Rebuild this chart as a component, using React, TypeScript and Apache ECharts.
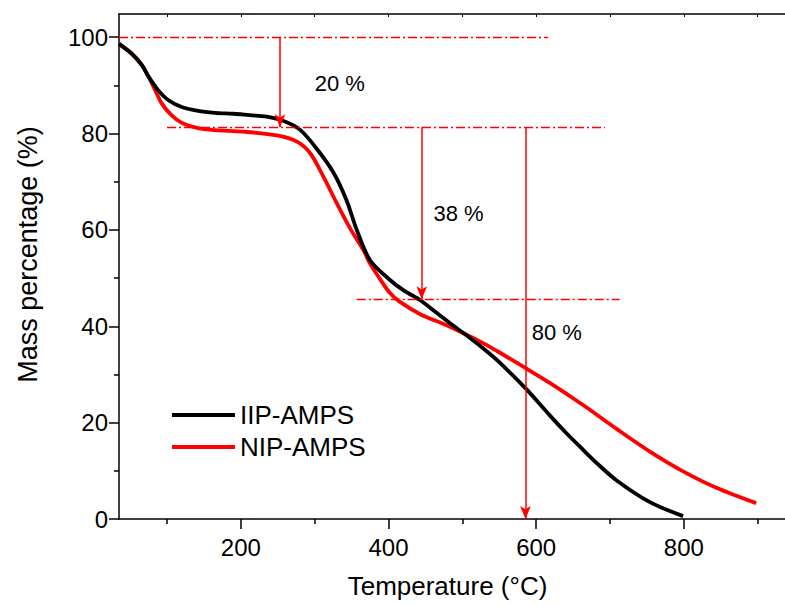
import React, { useEffect, useRef } from "react";
import * as echarts from "echarts";

// Temperature (°C) and mass percentage (%)
const iipTemp = [35, 52, 66, 75, 88, 102, 120, 142, 165, 190, 212, 235, 258, 280, 302, 325, 343, 357, 375, 402, 420, 443, 466, 487, 510, 533, 551, 587, 619, 641, 664, 682, 709, 754, 799];
const iipMass = [98.6, 96.6, 94.2, 91.8, 89.0, 86.9, 85.5, 84.7, 84.3, 84.1, 83.8, 83.5, 82.6, 80.8, 77.0, 72.0, 66.2, 60.0, 53.7, 49.6, 47.5, 45.4, 42.7, 40.2, 37.6, 34.8, 32.4, 26.9, 21.4, 17.8, 14.3, 11.6, 8.0, 3.5, 0.6];

const nipTemp = [35, 52, 66, 75, 84, 93, 106, 120, 142, 165, 203, 249, 276, 294, 312, 330, 348, 366, 375, 392, 402, 415, 443, 474, 501, 528, 551, 587, 619, 664, 709, 754, 799, 844, 898];
const nipMass = [98.6, 96.6, 94.2, 91.8, 89.0, 86.2, 83.8, 82.2, 81.1, 80.7, 80.4, 79.6, 78.3, 75.9, 71.0, 65.5, 60.3, 55.8, 53.0, 49.0, 46.9, 45.1, 42.5, 40.5, 38.6, 36.5, 34.5, 31.2, 28.2, 23.6, 18.7, 14.0, 9.9, 6.5, 3.3];

const seriesNames = ["IIP-AMPS", "NIP-AMPS"];
const xTickValues = [200, 400, 600, 800];
const xTopTickValues = [100, 200, 300, 400, 500, 600, 700, 800, 900];
const yTickValues = [0, 20, 40, 60, 80, 100];

// dash-dot reference levels: [xStart, xEnd, y]
const guideLines = [
  [35, 616, 100],
  [100, 693, 81.3],
  [357, 713, 45.6],
];
// arrows: [x, yFrom, yTo]
const arrows = [
  [253, 100, 81.3],
  [445, 81.3, 45.6],
  [585.5, 81.3, 0],
];
// annotation texts
const noteLabels = ["20 %", "38 %", "80 %"];
const noteX = [300, 461, 594];
const noteY = [90.4, 63.4, 38.6];

const FONT = "'Liberation Sans', Arial, sans-serif";

export default function App() {
  const ref = useRef<HTMLDivElement>(null);
  useEffect(() => {
    if (!ref.current) return;
    const chart = echarts.init(ref.current, null, { renderer: "svg" });
    const iipData = iipTemp.map((t, i) => [t, iipMass[i]]);
    const nipData = nipTemp.map((t, i) => [t, nipMass[i]]);
    const red = "#ff0000";
    chart.setOption({
      animation: false,
      backgroundColor: "#ffffff",
      textStyle: { fontFamily: FONT },
      grid: { left: 119, right: 0, top: 14, bottom: 86, containLabel: false },
      legend: {
        data: seriesNames,
        orient: "vertical",
        left: 167,
        top: 397,
        icon: "rect",
        itemWidth: 63,
        itemHeight: 4,
        itemGap: 6,
        textStyle: { fontSize: 26, color: "#000", fontFamily: FONT },
      },
      xAxis: [
        {
          type: "value",
          position: "bottom",
          min: 35,
          max: 937,
          minInterval: 200,
          maxInterval: 200,
          name: "Temperature (°C)",
          nameLocation: "middle",
          nameGap: 54,
          nameTextStyle: { fontSize: 26, color: "#000", fontFamily: FONT, padding: [0, 9, 0, 0] },
          axisLine: { show: true, onZero: false, lineStyle: { color: "#000", width: 1.5 } },
          axisTick: { show: true, inside: false, length: 10, customValues: xTickValues, lineStyle: { color: "#000", width: 1.5 } },
          minorTick: { show: true, splitNumber: 2, length: 5, lineStyle: { color: "#000", width: 1.5 } },
          axisLabel: { customValues: xTickValues, fontSize: 24, color: "#000", margin: 16, fontFamily: FONT },
          splitLine: { show: false },
        },
        {
          type: "value",
          position: "top",
          min: 35,
          max: 937,
          minInterval: 100,
          maxInterval: 100,
          axisLine: { show: true, onZero: false, lineStyle: { color: "#000", width: 1.5 } },
          axisTick: { show: true, inside: true, length: 3, customValues: xTopTickValues, lineStyle: { color: "#000", width: 1 } },
          axisLabel: { show: false },
          splitLine: { show: false },
        },
      ],
      yAxis: {
        type: "value",
        min: 0,
        max: 104.8,
        minInterval: 20,
        maxInterval: 20,
        name: "Mass percentage (%)",
        nameLocation: "middle",
        nameGap: 78,
        nameTextStyle: { fontSize: 27, color: "#000", fontFamily: FONT, padding: [0, 0, 0, 24] },
        axisLine: { show: true, onZero: false, lineStyle: { color: "#000", width: 1.5 } },
        axisTick: { show: true, inside: false, length: 10, customValues: yTickValues, lineStyle: { color: "#000", width: 1.5 } },
        minorTick: { show: true, splitNumber: 2, length: 5, lineStyle: { color: "#000", width: 1.5 } },
        axisLabel: { customValues: yTickValues, fontSize: 24, color: "#000", margin: 11, fontFamily: FONT },
        splitLine: { show: false },
      },
      series: [
        {
          name: "guides",
          type: "line",
          data: [],
          silent: true,
          clip: false,
          markLine: {
            silent: true,
            symbol: ["none", "none"],
            label: { show: false },
            lineStyle: { color: red, width: 1.3, type: [9, 3, 2, 3] },
            emphasis: { disabled: true },
            data: guideLines.map(([x1, x2, y]) => [{ coord: [x1, y] }, { coord: [x2, y] }]),
          },
        },
        {
          name: "arrows",
          type: "line",
          data: [],
          silent: true,
          clip: false,
          markLine: {
            silent: true,
            symbol: ["none", "arrow"],
            symbolSize: [8, 13],
            label: { show: false },
            lineStyle: { color: red, width: 1.5, type: "solid" },
            itemStyle: { color: red },
            emphasis: { disabled: true },
            data: arrows.map(([x, y1, y2]) => [{ coord: [x, y1] }, { coord: [x, y2] }]),
          },
        },
        {
          name: "notes",
          type: "scatter",
          silent: true,
          symbolSize: 0,
          itemStyle: { color: "#000", opacity: 1 },
          label: {
            show: true,
            position: "right",
            distance: 0,
            fontSize: 22,
            color: "#000",
            opacity: 1,
            fontFamily: FONT,
            formatter: (p: any) => p.value[2],
          },
          data: noteLabels.map((t, i) => [noteX[i], noteY[i], t]),
        },
        {
          name: seriesNames[1],
          type: "line",
          data: nipData,
          showSymbol: false,
          smooth: 0.3,
          lineStyle: { color: red, width: 3.8 },
          itemStyle: { color: red },
          z: 3,
        },
        {
          name: seriesNames[0],
          type: "line",
          data: iipData,
          showSymbol: false,
          smooth: 0.3,
          lineStyle: { color: "#000", width: 3.8 },
          itemStyle: { color: "#000" },
          z: 4,
        },
      ],
    });
    return () => chart.dispose();
  }, []);
  return <div ref={ref} style={{ width: 785, height: 605, position: "absolute", left: 0, top: 0 }} />;
}
